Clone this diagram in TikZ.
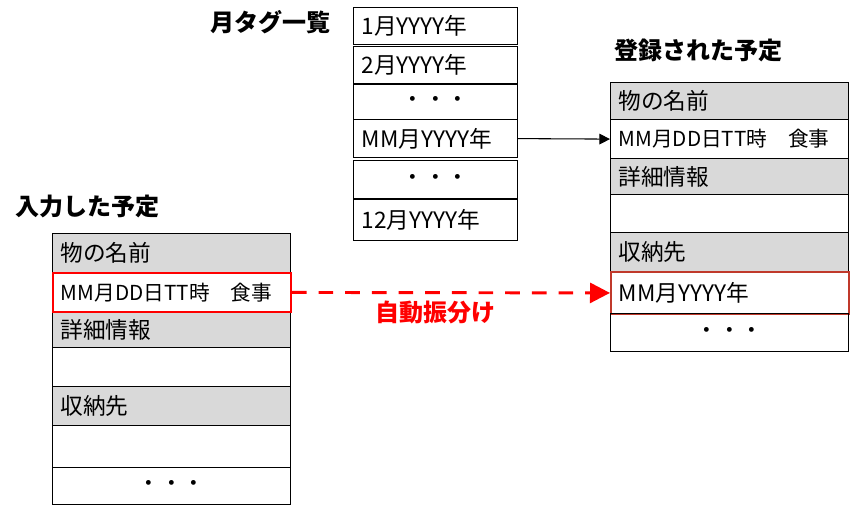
\documentclass[tikz,border=0pt]{standalone}
\usepackage{fontspec}
\setmainfont{Noto Sans CJK JP}
\usetikzlibrary{arrows.meta,positioning}
\definecolor{cellgray}{RGB}{217,217,217}
\definecolor{autored}{RGB}{255,0,0}
\definecolor{regred}{RGB}{192,57,43}
\tikzset{
  title/.style={font=\fontsize{18}{18}\selectfont\bfseries, inner sep=0pt},
  cell/.style={draw, line width=0.9pt, anchor=north west, inner xsep=6pt, inner ysep=0pt,
               minimum height=#1*0.75pt, font=\fontsize{17}{17}\selectfont},
  mcell/.style={cell=#1, text width=111pt, align=left},
  mdots/.style={cell=#1, text width=111pt, align=center},
  scell/.style={cell=#1, text width=166.5pt, align=left},
  sdots/.style={cell=#1, text width=166.5pt, align=center},
  dcell/.style={scell=#1, font=\fontsize{15.5}{15.5}\selectfont},
}

\begin{document}
\begin{tikzpicture}[x=0.75pt, y=-0.75pt]
\useasboundingbox (0,0) rectangle (850,515);

% Month tag list
\node[title, anchor=east] (mtitle) at (331, 22) {月タグ一覧};
\node[mcell=37] (m1) at (353, 7) {1月YYYY年};
\node[mcell=37] (m2) at (353, 46) {2月YYYY年};
\node[mdots=35] (m3) at (353, 84) {・・・};
\node[mcell=38] (m4) at (353, 119) {MM月YYYY年};
\node[mdots=38] (m5) at (353, 160) {・・・};
\node[mcell=41] (m6) at (353, 199) {12月YYYY年};

% Registered schedule
\node[title, anchor=west] (rtitle) at (614, 50) {登録された予定};
\node[scell=37, fill=cellgray] (r1) at (610, 82) {物の名前};
\node[dcell=39] (r2) at (610, 119) {MM月DD日TT時　食事};
\node[scell=36, fill=cellgray] (r3) at (610, 158) {詳細情報};
\node[scell=38] (r4) at (610, 194) {};
\node[scell=39, fill=cellgray] (r5) at (610, 232) {収納先};
\node[scell=42, draw=regred, line width=1.4pt] (r6) at (610, 271) {MM月YYYY年};
\node[sdots=38] (r7) at (610, 313) {・・・};

% Input schedule
\node[title, anchor=west] (ltitle) at (15, 206) {入力した予定};
\node[scell=39, fill=cellgray] (l1) at (52, 233) {物の名前};
\node[scell=36, fill=cellgray] (l3) at (52, 311) {詳細情報};
\node[scell=39] (l4) at (52, 347) {};
\node[scell=39, fill=cellgray] (l5) at (52, 386) {収納先};
\node[scell=42] (l6) at (52, 425) {};
\node[sdots=37] (l7) at (52, 467) {・・・};
\node[dcell=39, draw=autored, line width=1.4pt] (l2) at (52, 272) {MM月DD日TT時　食事};

% Arrows
\draw[line width=0.8pt, -{Triangle[length=8pt, width=8pt]}] (m4.east) -- (r2.west);
\draw[autored, line width=2.2pt, dash pattern=on 11pt off 9pt,
      -{Triangle[length=15pt, width=15pt]}] (l2.east) -- (r6.west)
  node[pos=0.45, below=5pt, text=autored, font=\fontsize{18}{18}\selectfont\bfseries, inner sep=0pt] (auto) {自動振分け};
\end{tikzpicture}
\end{document}
